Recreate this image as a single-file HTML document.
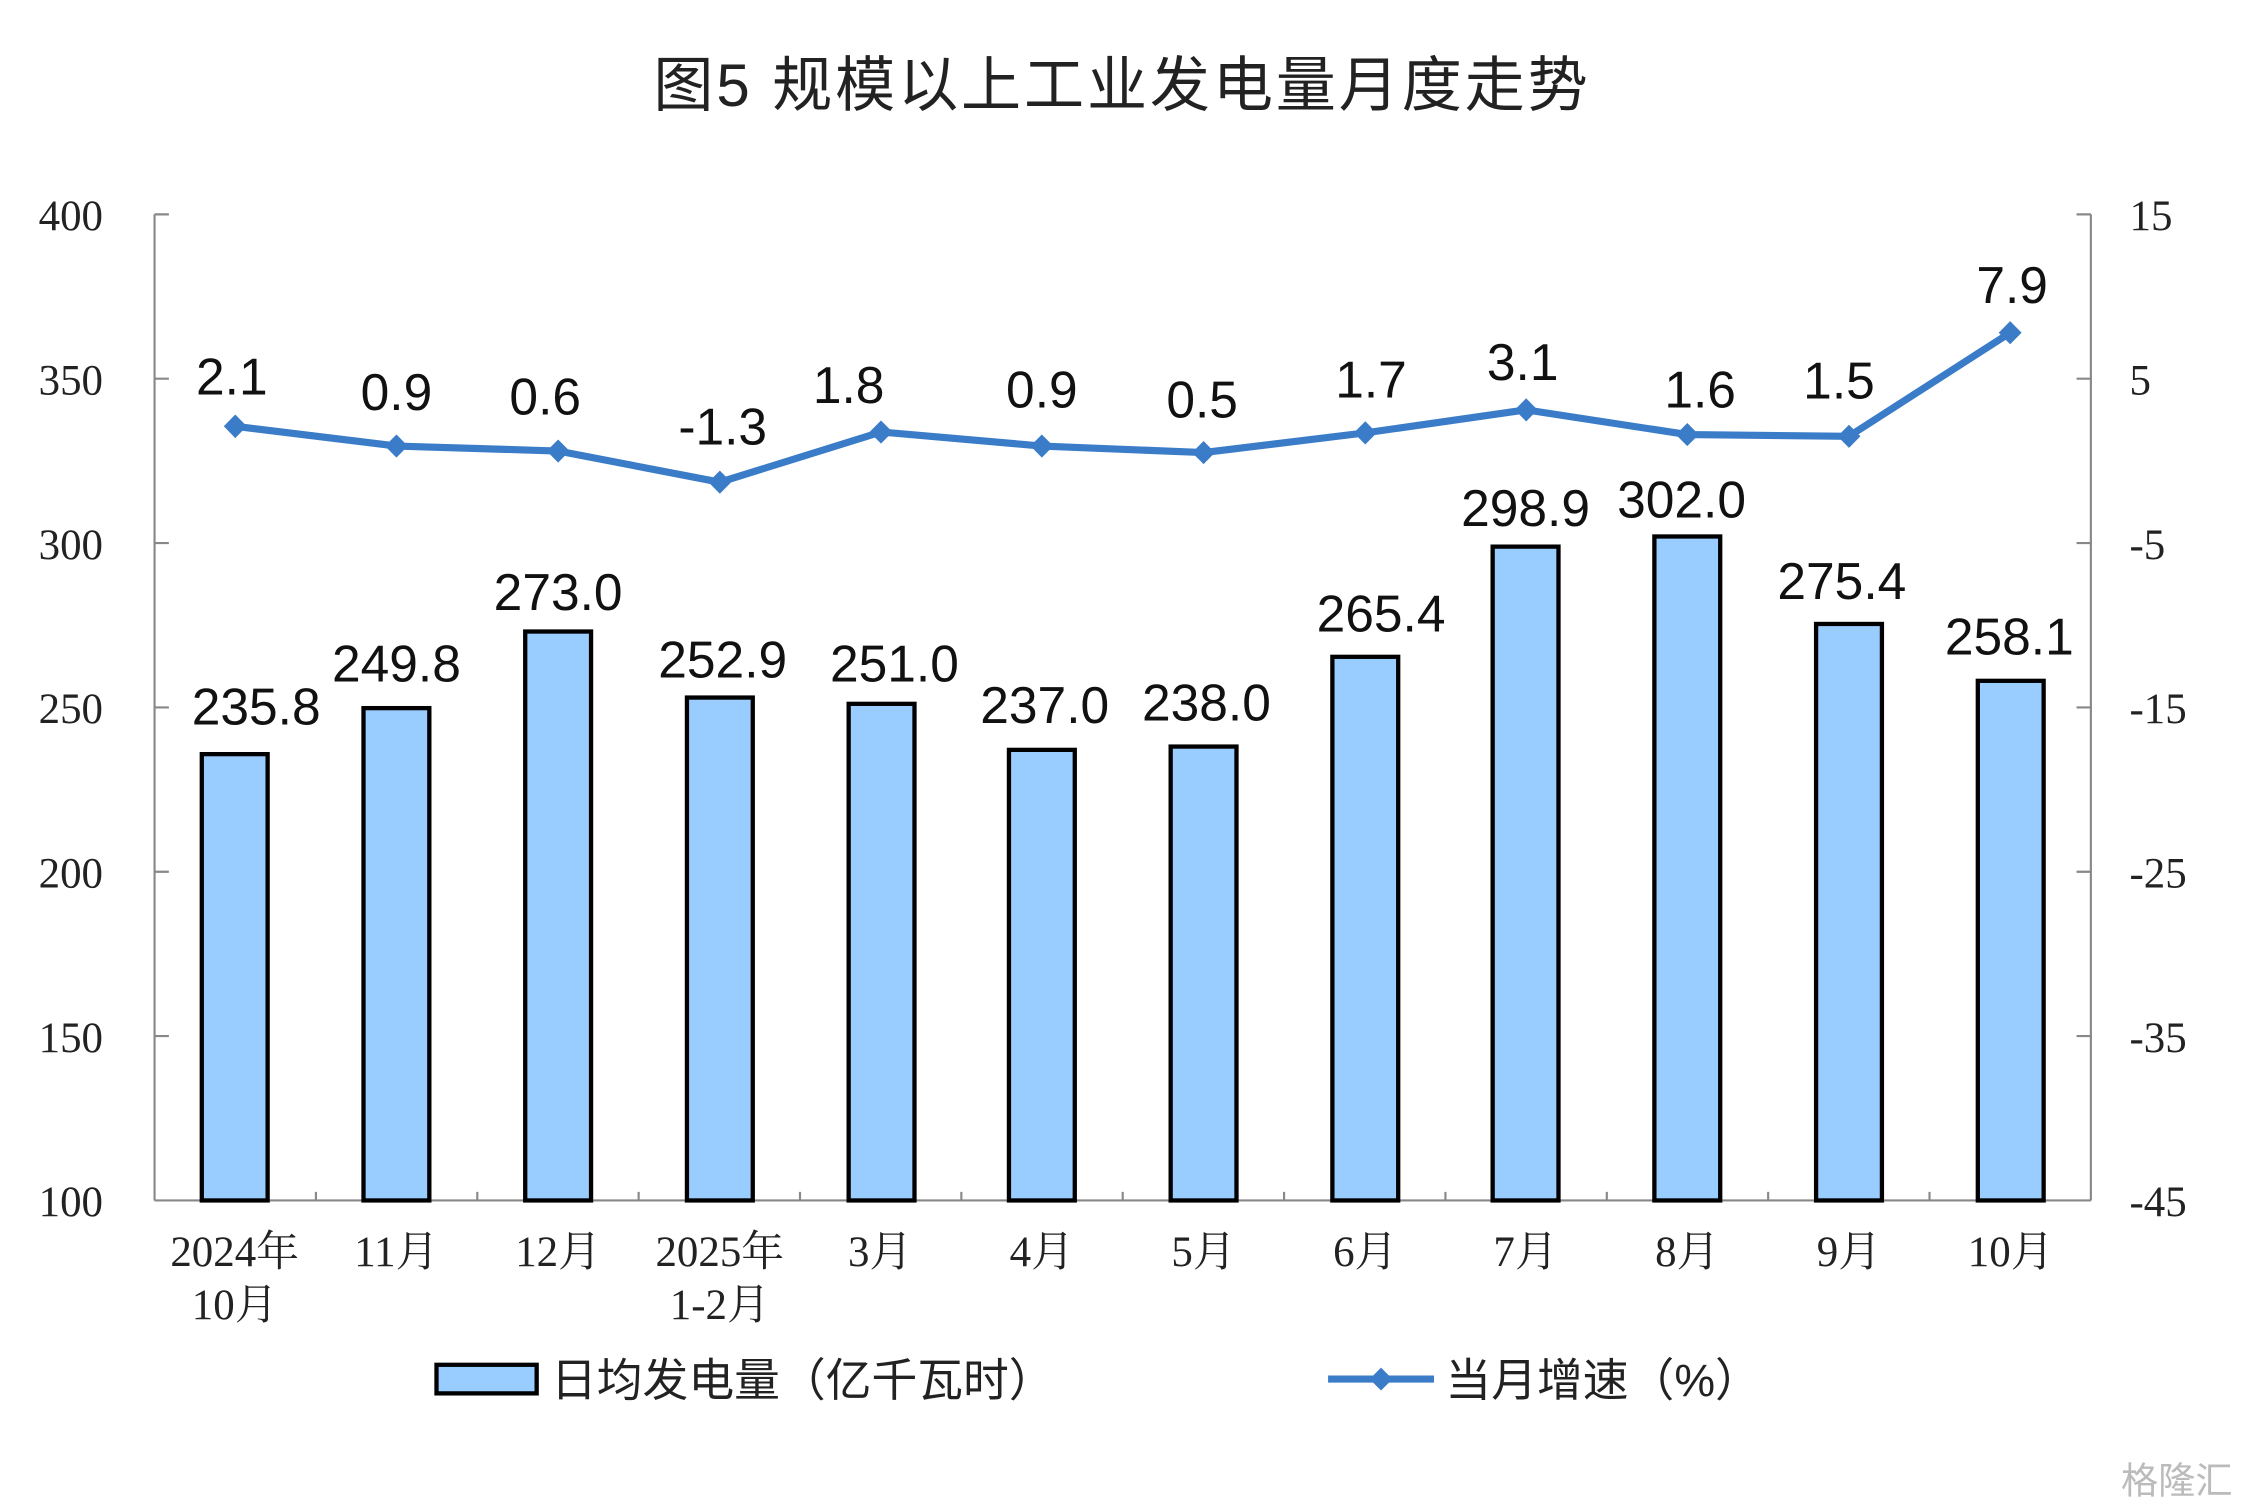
<!DOCTYPE html>
<html><head><meta charset="utf-8"><style>html,body{margin:0;padding:0;background:#fff}svg{display:block}</style></head>
<body>
<svg width="2244" height="1512" viewBox="0 0 1568 1058" preserveAspectRatio="none" xmlns="http://www.w3.org/2000/svg">
<rect width="1568" height="1058" fill="#fff"/>
<text x="784" y="74" text-anchor="middle" font-family="'Liberation Sans','Noto Sans CJK SC',sans-serif" font-size="42" letter-spacing="2" fill="#222">图5  规模以上工业发电量月度走势</text>
<g stroke="#888" stroke-width="1.5" fill="none">
<line x1="108" y1="150" x2="108" y2="840"/>
<line x1="1461" y1="150" x2="1461" y2="840"/>
<line x1="108" y1="840" x2="1461" y2="840"/>
<path d="M108 150h10M108 265h10M108 380h10M108 495h10M108 610h10M108 725h10M1451 150h10M1451 265h10M1451 380h10M1451 495h10M1451 610h10M1451 725h10"/>
<path d="M220.75 840v-6M333.5 840v-6M446.25 840v-6M559 840v-6M671.75 840v-6M784.5 840v-6M897.25 840v-6M1010 840v-6M1122.75 840v-6M1235.5 840v-6M1348.25 840v-6"/>
</g>
<g font-family="'Liberation Serif',serif" font-size="30" fill="#222" text-anchor="end">
<text x="72" y="161">400</text><text x="72" y="276">350</text><text x="72" y="391">300</text><text x="72" y="506">250</text><text x="72" y="621">200</text><text x="72" y="736">150</text><text x="72" y="851">100</text>
</g>
<g font-family="'Liberation Serif',serif" font-size="30" fill="#222" text-anchor="start">
<text x="1488" y="161">15</text><text x="1488" y="276">5</text><text x="1488" y="391">-5</text><text x="1488" y="506">-15</text><text x="1488" y="621">-25</text><text x="1488" y="736">-35</text><text x="1488" y="851">-45</text>
</g>
<g fill="#99ccff" stroke="#000" stroke-width="3">
<rect x="141" y="527.7" width="46" height="312.3"/>
<rect x="254" y="495.5" width="46" height="344.5"/>
<rect x="367" y="441.9" width="46" height="398.1"/>
<rect x="480" y="488.1" width="46" height="351.9"/>
<rect x="593" y="492.5" width="46" height="347.5"/>
<rect x="705" y="524.7" width="46" height="315.3"/>
<rect x="818" y="522.4" width="46" height="317.6"/>
<rect x="931" y="459.6" width="46" height="380.4"/>
<rect x="1043" y="382.5" width="46" height="457.5"/>
<rect x="1156" y="375.4" width="46" height="464.6"/>
<rect x="1269" y="436.6" width="46" height="403.4"/>
<rect x="1382" y="476.4" width="46" height="363.6"/>
</g>
<g font-family="'Liberation Sans',sans-serif" font-size="36" fill="#111" text-anchor="middle">
<text x="179" y="507">235.8</text><text x="277" y="477">249.8</text><text x="390" y="427">273.0</text><text x="505" y="474">252.9</text><text x="625" y="477">251.0</text><text x="730" y="506">237.0</text><text x="843" y="504">238.0</text><text x="965" y="442">265.4</text><text x="1066" y="368">298.9</text><text x="1175" y="362">302.0</text><text x="1287" y="419">275.4</text><text x="1404" y="458">258.1</text>
</g>
<polyline fill="none" stroke="#3a7cc8" stroke-width="5" stroke-linejoin="round" points="164.4,298.3 277,312.1 390,315.6 503,337.4 615.6,302.3 728,312.1 841,316.7 954,302.9 1066.4,286.8 1179,304.1 1292,305.3 1404.6,232.8"/>
<g fill="#3a7cc8">
<path d="M164.4 290l8 8.3-8 8.3-8-8.3z"/><path d="M277 304l8 8.1-8 8.1-8-8.1z"/><path d="M390 307.5l8 8.1-8 8.1-8-8.1z"/><path d="M503 329.3l8 8.1-8 8.1-8-8.1z"/><path d="M615.6 294.2l8 8.1-8 8.1-8-8.1z"/><path d="M728 304l8 8.1-8 8.1-8-8.1z"/><path d="M841 308.6l8 8.1-8 8.1-8-8.1z"/><path d="M954 294.8l8 8.1-8 8.1-8-8.1z"/><path d="M1066.4 278.7l8 8.1-8 8.1-8-8.1z"/><path d="M1179 296l8 8.1-8 8.1-8-8.1z"/><path d="M1292 297.2l8 8.1-8 8.1-8-8.1z"/><path d="M1404.6 224.7l8 8.1-8 8.1-8-8.1z"/>
</g>
<g font-family="'Liberation Sans',sans-serif" font-size="36" fill="#111" text-anchor="middle">
<text x="162" y="276">2.1</text><text x="277" y="287">0.9</text><text x="381" y="290">0.6</text><text x="505" y="311">-1.3</text><text x="593" y="282">1.8</text><text x="728" y="285">0.9</text><text x="840" y="292">0.5</text><text x="958" y="278">1.7</text><text x="1064" y="266">3.1</text><text x="1188" y="285">1.6</text><text x="1285" y="279">1.5</text><text x="1406" y="212">7.9</text>
</g>
<g font-family="'Liberation Serif','Noto Serif CJK SC',serif" font-size="30" fill="#222" text-anchor="middle">
<text x="164" y="886">2024年</text><text x="164" y="923">10月</text>
<text x="277" y="886">11月</text><text x="390" y="886">12月</text>
<text x="503" y="886">2025年</text><text x="503" y="923">1-2月</text>
<text x="615" y="886">3月</text><text x="728" y="886">4月</text><text x="841" y="886">5月</text><text x="954" y="886">6月</text><text x="1066" y="886">7月</text><text x="1179" y="886">8月</text><text x="1292" y="886">9月</text><text x="1405" y="886">10月</text>
</g>
<rect x="305" y="955" width="70" height="20" fill="#99ccff" stroke="#000" stroke-width="3"/>
<text x="385" y="977" font-family="'Liberation Sans','Noto Sans CJK SC',sans-serif" font-size="32" fill="#222">日均发电量（亿千瓦时）</text>
<line x1="928" y1="965" x2="1002" y2="965" stroke="#3a7cc8" stroke-width="5"/>
<path d="M965 957l8 8-8 8-8-8z" fill="#3a7cc8"/>
<text x="1010" y="977" font-family="'Liberation Sans','Noto Sans CJK SC',sans-serif" font-size="32" fill="#222">当月增速（%）</text>
<text x="1560" y="1045" text-anchor="end" font-family="'Liberation Sans','Noto Sans CJK SC',sans-serif" font-size="26" fill="#bbb">格隆汇</text>
</svg>
</body></html>
